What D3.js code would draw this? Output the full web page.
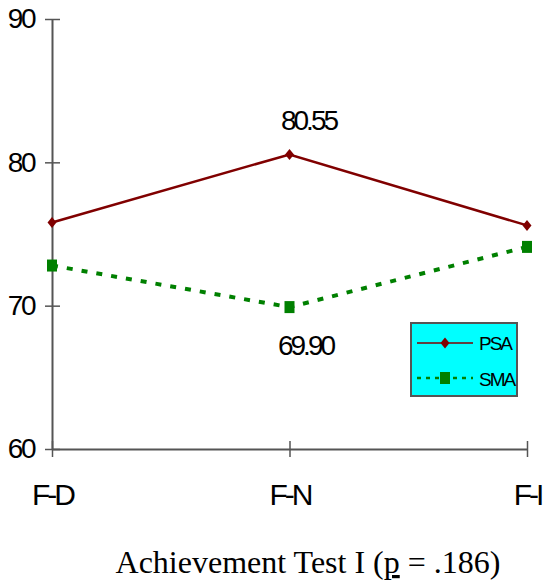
<!DOCTYPE html>
<html lang="en">
<head>
  <meta charset="UTF-8">
  <title>Achievement Test I</title>
  <script src="https://d3js.org/d3.v7.min.js"></script>
  <style>
    body {
      margin: 0;
      background-color: #ffffff;
    }
    svg {
      display: block;
      font-family: 'Liberation Sans', Arial, sans-serif;
    }
  </style>
</head>
<body>
  <svg id="chart" width="545" height="582"></svg>

  <script>
    // data
    const categories = ["F-D", "F-N", "F-I"];
    const psaValues = [75.8, 80.55, 75.6];
    const smaValues = [72.8, 69.90, 74.1];
    const yTicks = [60, 70, 80, 90];
    const seriesNames = ["PSA", "SMA"];
    const title = "Achievement Test I (";

    const svg = d3.select("#chart");

    const x = d3.scalePoint().domain(categories).range([52, 527]);
    const y = d3.scaleLinear().domain([60, 90]).range([449, 19]);

    // y axis
    const yAxis = svg.append("g")
      .attr("transform", "translate(52,0)")
      .call(d3.axisLeft(y).tickValues(yTicks).tickSize(7).tickSizeOuter(0).tickPadding(11));
    yAxis.select(".domain").attr("stroke", "#555").attr("stroke-width", 2);
    yAxis.selectAll(".tick line").attr("x1", 8).attr("stroke", "#555").attr("stroke-width", 1.5);
    yAxis.selectAll(".tick text")
      .attr("font-size", 28)
      .attr("font-family", "'Liberation Sans', Arial, sans-serif")
      .attr("letter-spacing", -2.5)
      .attr("fill", "#000");

    // x axis
    const xAxis = svg.append("g")
      .attr("transform", "translate(0,449)")
      .call(d3.axisBottom(x).tickSize(8).tickSizeOuter(0).tickPadding(0));
    xAxis.select(".domain").attr("stroke", "#555").attr("stroke-width", 2);
    xAxis.selectAll(".tick line").attr("y1", -8).attr("stroke", "#555").attr("stroke-width", 1.5);
    xAxis.selectAll(".tick text")
      .attr("y", 56)
      .attr("dy", 0)
      .attr("font-size", 30)
      .attr("font-family", "'Liberation Sans', Arial, sans-serif")
      .attr("letter-spacing", -3)
      .attr("fill", "#000");

    const psaLine = d3.line().x((d, i) => x(categories[i])).y(d => y(d));

    // SMA series
    svg.append("path")
      .datum(smaValues)
      .attr("fill", "none")
      .attr("stroke", "#008000")
      .attr("stroke-width", 4)
      .attr("stroke-dasharray", "6,9")
      .attr("d", psaLine);
    svg.append("g").selectAll("rect")
      .data(smaValues)
      .enter().append("rect")
      .attr("x", (d, i) => x(categories[i]) - 5)
      .attr("y", d => y(d) - 6)
      .attr("width", 10)
      .attr("height", 12)
      .attr("fill", "#008000");

    // PSA series
    svg.append("path")
      .datum(psaValues)
      .attr("fill", "none")
      .attr("stroke", "#800000")
      .attr("stroke-width", 2.5)
      .attr("d", psaLine);
    const diamond = "M0,-5.5L4.5,0L0,5.5L-4.5,0Z";
    svg.append("g").selectAll("path")
      .data(psaValues)
      .enter().append("path")
      .attr("transform", (d, i) => `translate(${x(categories[i])},${y(d)})`)
      .attr("d", diamond)
      .attr("fill", "#800000");

    // value labels at F-N
    svg.append("text")
      .attr("x", x("F-N") + 19)
      .attr("y", 130)
      .attr("text-anchor", "middle")
      .attr("font-size", 28)
      .attr("letter-spacing", -3)
      .text(psaValues[1].toFixed(2));
    svg.append("text")
      .attr("x", x("F-N") + 16)
      .attr("y", 355)
      .attr("text-anchor", "middle")
      .attr("font-size", 28)
      .attr("letter-spacing", -3)
      .text(smaValues[1].toFixed(2));

    // legend
    const legend = svg.append("g");
    legend.append("rect")
      .attr("x", 411).attr("y", 323)
      .attr("width", 106).attr("height", 73)
      .attr("fill", "#00ffff")
      .attr("stroke", "#555")
      .attr("stroke-width", 2);
    legend.append("line")
      .attr("x1", 417).attr("x2", 473).attr("y1", 343).attr("y2", 343)
      .attr("stroke", "#800000").attr("stroke-width", 1.5);
    legend.append("path")
      .attr("transform", "translate(445,343)")
      .attr("d", diamond)
      .attr("fill", "#800000");
    legend.append("line")
      .attr("x1", 417).attr("x2", 473).attr("y1", 378).attr("y2", 378)
      .attr("stroke", "#008000").attr("stroke-width", 2.5)
      .attr("stroke-dasharray", "4,5");
    legend.append("rect")
      .attr("x", 440).attr("y", 372).attr("width", 10).attr("height", 12)
      .attr("fill", "#008000");
    legend.selectAll("text.leg")
      .data(seriesNames)
      .enter().append("text")
      .attr("class", "leg")
      .attr("x", 479)
      .attr("y", (d, i) => 350 + i * 36)
      .attr("font-size", 19)
      .attr("letter-spacing", -2)
      .text(d => d);

    // title
    const t = svg.append("text")
      .attr("x", 308)
      .attr("y", 573)
      .attr("text-anchor", "middle")
      .attr("font-family", "'Liberation Serif', 'Times New Roman', serif")
      .attr("font-size", 32);
    t.append("tspan").text(title);
    t.append("tspan").attr("text-decoration", "underline").text("p");
    t.append("tspan").text(" = .186)");
  </script>
</body>
</html>
